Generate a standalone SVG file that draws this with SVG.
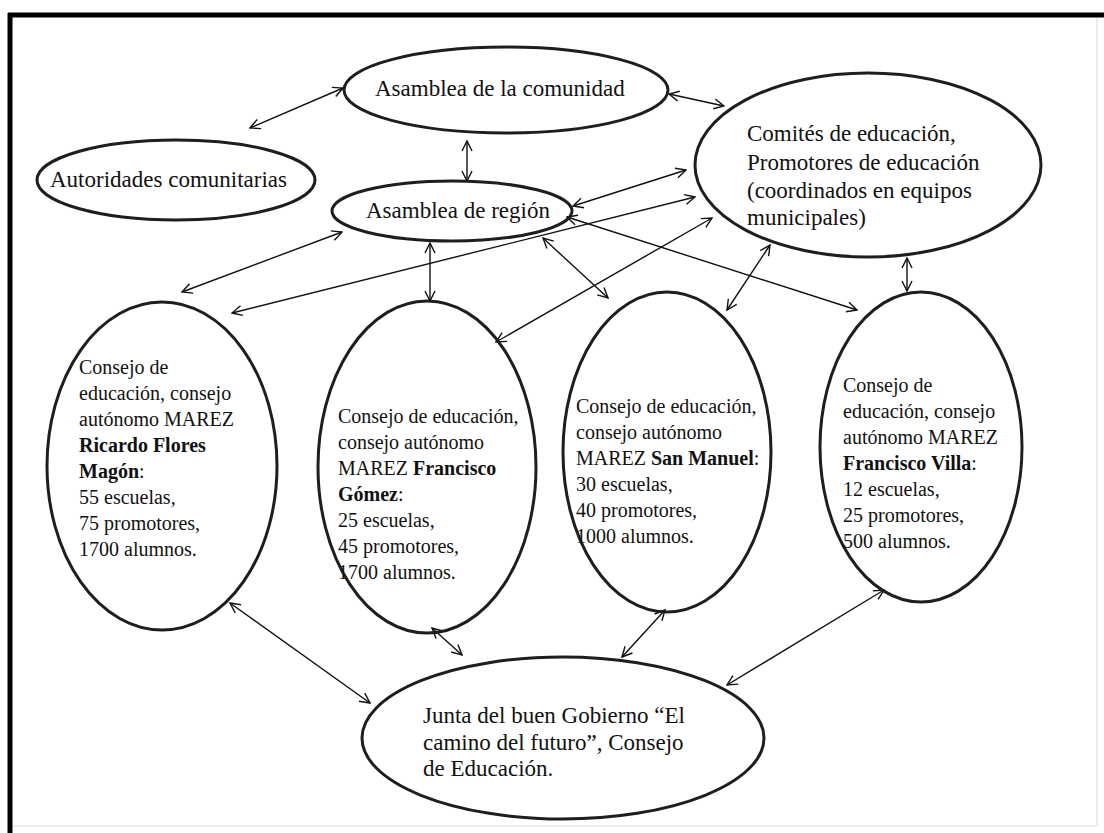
<svg xmlns="http://www.w3.org/2000/svg" width="1104" height="833" viewBox="0 0 1104 833">
<style>
.node ellipse{fill:none;stroke:#1e1e1e;stroke-width:3}
.t{font-family:"Liberation Serif","Times New Roman",serif;font-size:23px;fill:#111}
.s{font-family:"Liberation Serif","Times New Roman",serif;font-size:20px;fill:#111}
.b{font-weight:bold}
#connectors line{stroke:#111;stroke-width:1.4;marker-start:url(#ah);marker-end:url(#ah)}
</style>
<defs>
<marker id="ah" viewBox="0 0 12 12" refX="11" refY="6" markerWidth="12" markerHeight="12" markerUnits="userSpaceOnUse" orient="auto-start-reverse">
<path d="M1,1 L11,6 L1,11" fill="none" stroke="#111" stroke-width="1.4"/>
</marker>
</defs>
<rect x="0" y="0" width="1104" height="833" fill="#fff"/>
<g id="frame">
<line x1="1097" y1="18" x2="1097" y2="826" stroke="#ececec" stroke-width="2"/>
<line x1="12" y1="826" x2="1097" y2="826" stroke="#ececec" stroke-width="2"/>
<line x1="8" y1="15" x2="1104" y2="15" stroke="#000" stroke-width="5"/>
<line x1="10" y1="13" x2="10" y2="833" stroke="#000" stroke-width="5"/>
</g>
<g id="connectors">
<line x1="250" y1="128" x2="343" y2="88"/>
<line x1="669" y1="94" x2="724" y2="106"/>
<line x1="467" y1="141" x2="467" y2="181"/>
<line x1="342" y1="232" x2="182" y2="292"/>
<line x1="430" y1="243" x2="430" y2="301"/>
<line x1="573" y1="206" x2="686" y2="170"/>
<line x1="232" y1="313" x2="695" y2="197"/>
<line x1="496" y1="342" x2="712" y2="218"/>
<line x1="543" y1="238" x2="608" y2="298"/>
<line x1="567" y1="217" x2="857" y2="310"/>
<line x1="727" y1="310" x2="770" y2="245"/>
<line x1="907" y1="258" x2="907" y2="291"/>
<line x1="230" y1="603" x2="370" y2="703"/>
<line x1="432" y1="628" x2="462" y2="655"/>
<line x1="665" y1="610" x2="622" y2="657"/>
<line x1="884" y1="590" x2="727" y2="685"/>
</g>
<g id="comunidad" class="node">
<ellipse cx="506" cy="90" rx="162" ry="43"/>
<text class="t" x="375" y="96">Asamblea de la comunidad</text>
</g>
<g id="autoridades" class="node">
<ellipse cx="176" cy="180" rx="139" ry="40"/>
<text class="t" x="50" y="187">Autoridades comunitarias</text>
</g>
<g id="region" class="node">
<ellipse cx="452" cy="211" rx="120" ry="30"/>
<text class="t" x="366" y="218">Asamblea de región</text>
</g>
<g id="comites" class="node">
<ellipse cx="868" cy="165" rx="173" ry="92"/>
<text class="t" x="747" y="141">Comités de educación,</text>
<text class="t" x="747" y="170">Promotores de educación</text>
<text class="t" x="747" y="198">(coordinados en equipos</text>
<text class="t" x="747" y="225">municipales)</text>
</g>
<g id="magon" class="node">
<ellipse cx="162" cy="466" rx="115" ry="164"/>
<text class="s" x="79" y="374">Consejo de</text>
<text class="s" x="79" y="400">educación, consejo</text>
<text class="s" x="79" y="426">autónomo MAREZ</text>
<text class="s b" x="79" y="452">Ricardo Flores</text>
<text class="s" x="79" y="478"><tspan class="b">Magón</tspan>:</text>
<text class="s" x="79" y="504">55 escuelas,</text>
<text class="s" x="79" y="530">75 promotores,</text>
<text class="s" x="79" y="556">1700 alumnos.</text>
</g>
<g id="gomez" class="node">
<ellipse cx="427" cy="467" rx="109" ry="166"/>
<text class="s" x="338" y="423">Consejo de educación,</text>
<text class="s" x="338" y="449">consejo autónomo</text>
<text class="s" x="338" y="475">MAREZ <tspan class="b">Francisco</tspan></text>
<text class="s" x="338" y="501"><tspan class="b">Gómez</tspan>:</text>
<text class="s" x="338" y="527">25 escuelas,</text>
<text class="s" x="338" y="553">45 promotores,</text>
<text class="s" x="338" y="579">1700 alumnos.</text>
</g>
<g id="sanmanuel" class="node">
<ellipse cx="667" cy="452" rx="104" ry="160"/>
<text class="s" x="576" y="413">Consejo de educación,</text>
<text class="s" x="576" y="439">consejo autónomo</text>
<text class="s" x="576" y="465">MAREZ <tspan class="b">San Manuel</tspan>:</text>
<text class="s" x="576" y="491">30 escuelas,</text>
<text class="s" x="576" y="517">40 promotores,</text>
<text class="s" x="576" y="543">1000 alumnos.</text>
</g>
<g id="villa" class="node">
<ellipse cx="921" cy="447" rx="101" ry="155"/>
<text class="s" x="843" y="392">Consejo de</text>
<text class="s" x="843" y="418">educación, consejo</text>
<text class="s" x="843" y="444">autónomo MAREZ</text>
<text class="s" x="843" y="470"><tspan class="b">Francisco Villa</tspan>:</text>
<text class="s" x="843" y="496">12 escuelas,</text>
<text class="s" x="843" y="522">25 promotores,</text>
<text class="s" x="843" y="548">500 alumnos.</text>
</g>
<g id="junta" class="node">
<ellipse cx="563" cy="738" rx="201" ry="81"/>
<text class="t" x="423" y="723">Junta del buen Gobierno “El</text>
<text class="t" x="423" y="750">camino del futuro”, Consejo</text>
<text class="t" x="423" y="776">de Educación.</text>
</g>
</svg>
